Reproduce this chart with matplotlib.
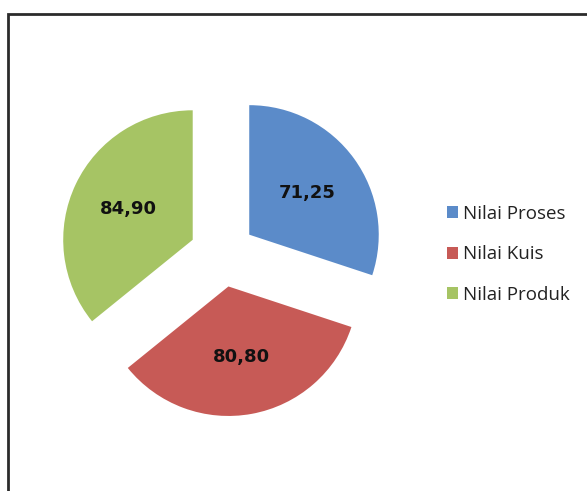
import matplotlib.pyplot as plt
from matplotlib.patches import Rectangle

labels = ["Nilai Proses", "Nilai Kuis", "Nilai Produk"]
values = [71.25, 80.80, 84.90]
colors = ["#5B8BC9", "#C75A56", "#A6C464"]

plt.rcParams['font.family'] = ['Open Sans', 'DejaVu Sans']

fig = plt.figure(figsize=(5.87, 4.91), dpi=100)
ax = fig.add_axes([0, 0, 1, 1])
ax.set_aspect('equal')
ax.axis('off')

# outer frame (only top and left edges show in the crop)
fig.add_artist(Rectangle((8 / 587, -0.1), 1.2, (491 - 14) / 491 + 0.1,
                         transform=fig.transFigure, fill=False,
                         edgecolor='#2b2b2b', linewidth=2))

wedges, texts, autotexts = ax.pie(
    values, colors=colors, startangle=90, counterclock=False,
    center=(222.5, 237), radius=129.5, explode=[33, 33, 33],
    autopct='%1.1f', pctdistance=0.55,
    wedgeprops=dict(linewidth=0),
    textprops=dict(fontsize=13, fontweight='bold', color='#111111',
                   family='DejaVu Sans'))

for t, v in zip(autotexts, values):
    t.set_text(f"{v:.2f}".replace('.', ','))

ax.set_xlim(0, 587)
ax.set_ylim(0, 491)

ax.legend(wedges, labels, loc='center left', bbox_to_anchor=(0.7615, 0.482),
          bbox_transform=fig.transFigure, frameon=False, fontsize=13.5,
          handlelength=0.58, handleheight=0.58, handletextpad=0.25,
          labelspacing=1.2, borderpad=0, borderaxespad=0,
          labelcolor='#222222')

plt.savefig("out.png", dpi=100)
